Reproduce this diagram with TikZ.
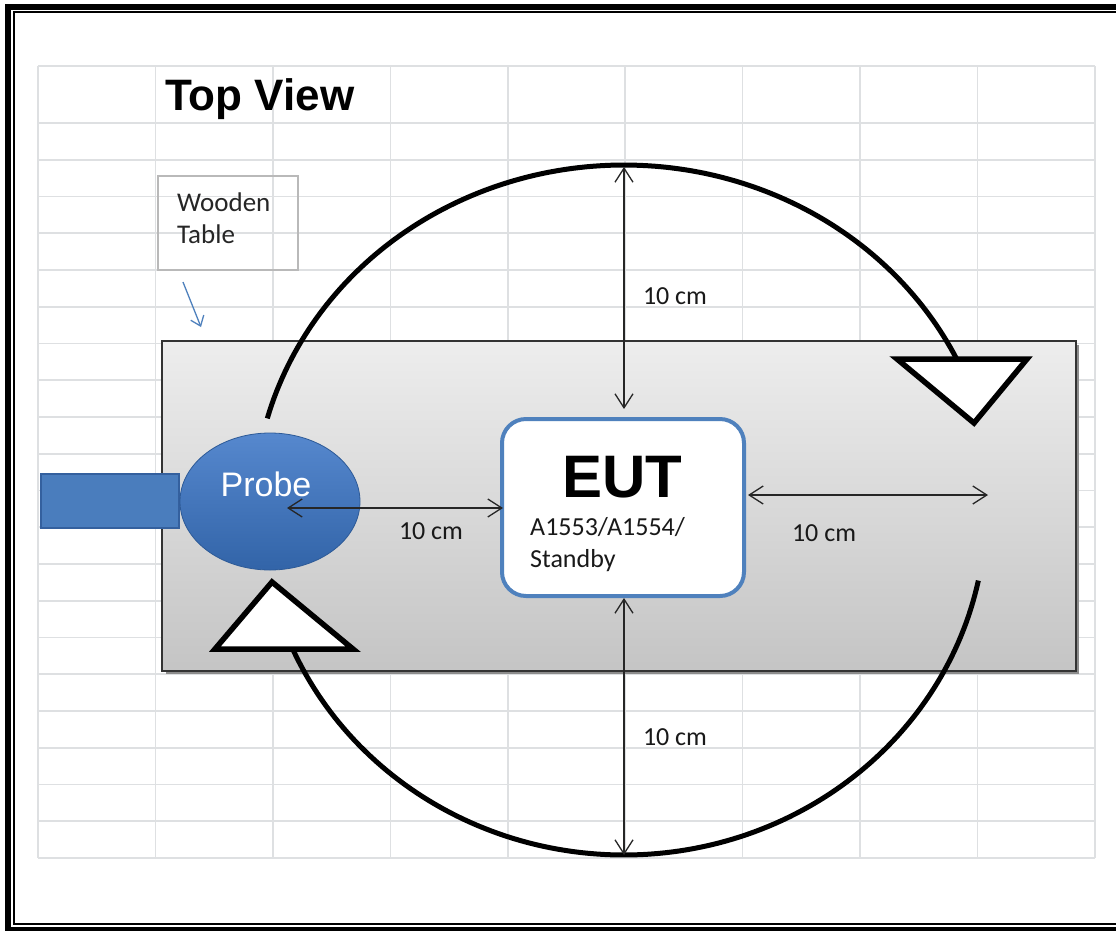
\documentclass[tikz,border=0pt]{standalone}
\usepackage{fontspec}
\setmainfont{Carlito}
\newfontfamily\arialf{Liberation Sans}
\usetikzlibrary{arrows.meta,shapes.geometric}
\definecolor{gridc}{RGB}{222,224,226}
\definecolor{eutblue}{RGB}{79,129,189}
\definecolor{handleblue}{RGB}{74,125,189}
\definecolor{handleedge}{RGB}{52,96,158}
\definecolor{probetop}{RGB}{86,136,206}
\definecolor{probebot}{RGB}{50,100,168}
\tikzset{
  gridline/.style={draw=gridc, line width=1.6pt},
  arcline/.style={draw=black, line width=5pt},
  trishape/.style={draw=black, fill=white, line width=5.5pt, line join=miter},
  dimarrow/.style={draw=black!85, line width=1.3pt, {Straight Barb[length=14pt,width=18pt]}-{Straight Barb[length=14pt,width=18pt]}},
  dimlabel/.style={font=\fontsize{26}{30}\selectfont, text=black!90, inner sep=0pt},
  calabel/.style={font=\fontsize{26}{30}\selectfont, text=black!90, inner sep=0pt, anchor=base west},
  bluearrow/.style={draw=eutblue, line width=1.3pt, -{Straight Barb[length=9pt,width=14pt]}}
}
\begin{document}
\begin{tikzpicture}[x=1pt,y=-1pt]
\useasboundingbox (0,0) rectangle (1116,930);
\begin{scope}
\clip (0,0) rectangle (1116,930);
\fill[white] (0,0) rectangle (1116,930);
% spreadsheet grid
\foreach \i in {0,...,9} {
  \draw[gridline] ({38+117.44*\i},66) -- ({38+117.44*\i},858);
}
\draw[gridline] (38,66) -- (1095,66);
\foreach \j in {0,...,20} {
  \draw[gridline] (38,{123+36.75*\j}) -- (1095,{123+36.75*\j});
}
% page border (right side lies outside the page)
\draw[line width=6pt] (8,7) rectangle (1140,929.5);
\draw[line width=2pt] (13.8,12.2) rectangle (1134,924.3);
\end{scope}
% title
\node[font=\arialf\bfseries\fontsize{44}{50}\selectfont, anchor=base west, inner sep=0pt] (title) at (165,110) {Top View};
% wooden table label
\node[draw=gray!55, line width=1.3pt, minimum width=140pt, minimum height=94pt, inner sep=0pt] (woodbox) at (228,223) {};
\node[font=\fontsize{27}{32}\selectfont, text=black!85, anchor=base west, inner sep=0pt] (wood1) at (177,211) {Wooden};
\node[font=\fontsize{27}{32}\selectfont, text=black!85, anchor=base west, inner sep=0pt] (wood2) at (177,243) {Table};
\coordinate (ba1) at (183,282);
\coordinate (ba2) at (201,327);
\draw[bluearrow] (ba1) -- (ba2);
% table
\fill[black!45] (166,345) rectangle (1079,674);
\node[draw=black!80, line width=1.3pt, top color=black!7, bottom color=black!23, minimum width=914pt, minimum height=330pt, inner sep=0pt] (table) at (619,506) {};
% arcs
\draw[arcline] plot[domain=164.6:25.7, samples=120] ({624+370*cos(\x)},{510-345*sin(\x)});
\draw[arcline] plot[domain=203.6:348.2, samples=120] ({624+362*cos(\x)},{510-345*sin(\x)});
% triangles
\coordinate (tr1) at (897,359);
\coordinate (tr2) at (1027,359);
\coordinate (tr3) at (974,423);
\draw[trishape] (tr1) -- (tr2) -- (tr3) -- cycle;
\coordinate (tl1) at (272,582);
\coordinate (tl2) at (353,649);
\coordinate (tl3) at (215,649);
\draw[trishape] (tl1) -- (tl2) -- (tl3) -- cycle;
% probe
\node[draw=handleedge, fill=handleblue, line width=2pt, minimum width=138pt, minimum height=54pt, inner sep=0pt] (handle) at (109.5,501) {};
\node[ellipse, draw=probebot!90!black, line width=0.8pt, top color=probetop, bottom color=probebot, minimum width=180pt, minimum height=137pt, inner sep=0pt] (probe) at (270,501.5) {};
\node[font=\arialf\fontsize{34}{40}\selectfont, text=white, anchor=base, inner sep=0pt] (probetxt) at (266,496) {Probe};
% EUT
\node[draw=eutblue, fill=white, line width=4pt, rounded corners=24pt, minimum width=242pt, minimum height=177pt, inner sep=0pt] (eut) at (623,507.5) {};
\node[font=\arialf\bfseries\fontsize{60}{66}\selectfont, anchor=base, inner sep=0pt] (euttitle) at (622,497) {EUT};
\node[calabel] (eutsub1) at (530,535) {A1553/A1554/};
\node[calabel] (eutsub2) at (530,567) {Standby};
% dimension arrows
\coordinate (pc) at (287,508);
\coordinate (el) at (503,508);
\draw[dimarrow] (pc) -- (el);
\coordinate (er) at (748,495);
\coordinate (rr) at (988,495);
\draw[dimarrow] (er) -- (rr);
\coordinate (at) at (624,167);
\coordinate (et) at (624,409);
\draw[dimarrow] (at) -- (et);
\coordinate (eb) at (624,598);
\coordinate (ab) at (624,855);
\draw[dimarrow] (eb) -- (ab);
% labels
\node[dimlabel] (l1) at (675,296) {10 cm};
\node[dimlabel] (l2) at (431,531) {10 cm};
\node[dimlabel] (l3) at (824,533) {10 cm};
\node[dimlabel] (l4) at (675,737) {10 cm};
\end{tikzpicture}
\end{document}
